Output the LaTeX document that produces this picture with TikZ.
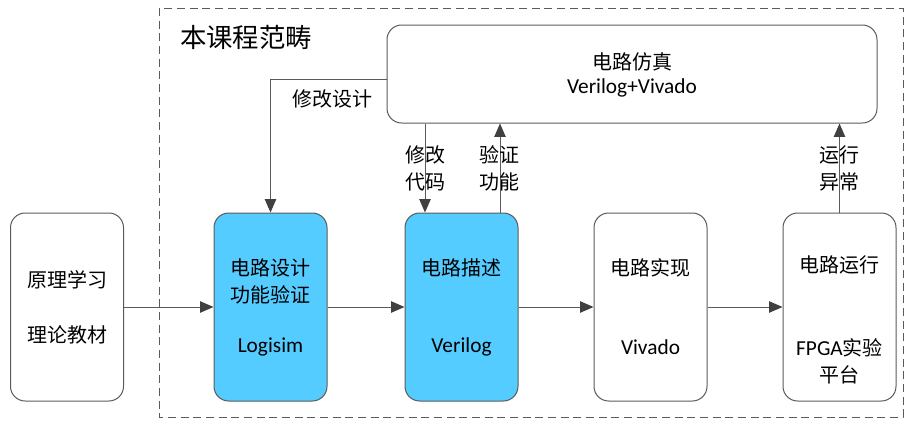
\documentclass[tikz,border=0pt]{standalone}
\usepackage{fontspec}
\setmainfont{Noto Sans CJK SC}
\newfontfamily\lat{Carlito}
\usetikzlibrary{arrows.meta}
\definecolor{linegray}{RGB}{90,90,90}
\definecolor{tipgray}{RGB}{64,64,64}
\definecolor{chipblue}{RGB}{85,204,255}
\newcommand{\latin}[1]{{\lat\fontsize{16}{20.25}\selectfont #1}}
\begin{document}
\begin{tikzpicture}[x=0.75pt,y=-0.75pt,
	stage/.style={draw=linegray, line width=0.75pt, rounded corners=11pt, minimum width=84.75pt, minimum height=141pt, inner sep=0pt},
	tool/.style={stage, fill=chipblue},
	flow/.style={draw=linegray, line width=0.75pt, -{Triangle[length=10pt,width=8.5pt,color=tipgray]}},
	txt/.style={font=\fontsize{15}{20.25}\selectfont, align=center, inner sep=0pt}]
	\useasboundingbox (0,0) rectangle (907,421);
	% frame of the course
	\draw[linegray, line width=0.75pt, dash pattern=on 6pt off 3.5pt] (159,8) rectangle (903,417);
	\node[txt, font=\fontsize{19.8}{24}\selectfont] (scope) at (246,37) {本课程范畴};
	% stages
	\node[stage] (theory) at (67,307) {};
	\node[tool] (logic) at (270.5,307) {};
	\node[tool] (verilog) at (461.5,307) {};
	\node[stage] (vivado) at (650.5,307) {};
	\node[stage] (fpga) at (839.5,307) {};
	\node[stage, minimum width=367.5pt, minimum height=73.5pt] (sim) at (632,74) {};
	% texts
	\node[txt] (theoryA) at (67,280) {原理学习};
	\node[txt] (theoryB) at (67,335) {理论教材};
	\node[txt] (logicA) at (270.5,281.5) {电路设计\\功能验证};
	\node[txt] (logicB) at (270.5,347) {\latin{Logisim}};
	\node[txt] (verilogA) at (461.5,268) {电路描述};
	\node[txt] (verilogB) at (461.5,347) {\latin{Verilog}};
	\node[txt] (vivadoA) at (650.5,268) {电路实现};
	\node[txt] (vivadoB) at (650.5,347) {\latin{Vivado}};
	\node[txt] (fpgaA) at (839.5,265) {电路运行};
	\node[txt] (fpgaB) at (839.5,361) {\latin{FPGA}实验\\平台};
	\node[txt] (simA) at (632,62) {电路仿真};
	\node[txt] (simB) at (632,88) {\latin{Verilog+Vivado}};
	% flow
	\draw[flow] (theory) -- (logic);
	\draw[flow] (logic) -- (verilog);
	\draw[flow] (verilog) -- (vivado);
	\draw[flow] (vivado) -- (fpga);
	% feedback
	\coordinate (codeX) at (425,0);
	\coordinate (testX) at (500,0);
	\draw[flow] ([yshift=-3.75pt]sim.west) -| (logic.north);
	\draw[flow] (sim.south -| codeX) -- (verilog.north -| codeX);
	\draw[flow] (verilog.north -| testX) -- (sim.south -| testX);
	\draw[flow] (fpga.north) -- (sim.south -| fpga.north);
	\node[txt] (fixDesign) at (332,99) {修改设计};
	\node[txt] (fixCode) at (425,168.5) {修改\\代码};
	\node[txt] (check) at (499,168.5) {验证\\功能};
	\node[txt] (fault) at (839.5,168.5) {运行\\异常};
\end{tikzpicture}
\end{document}
